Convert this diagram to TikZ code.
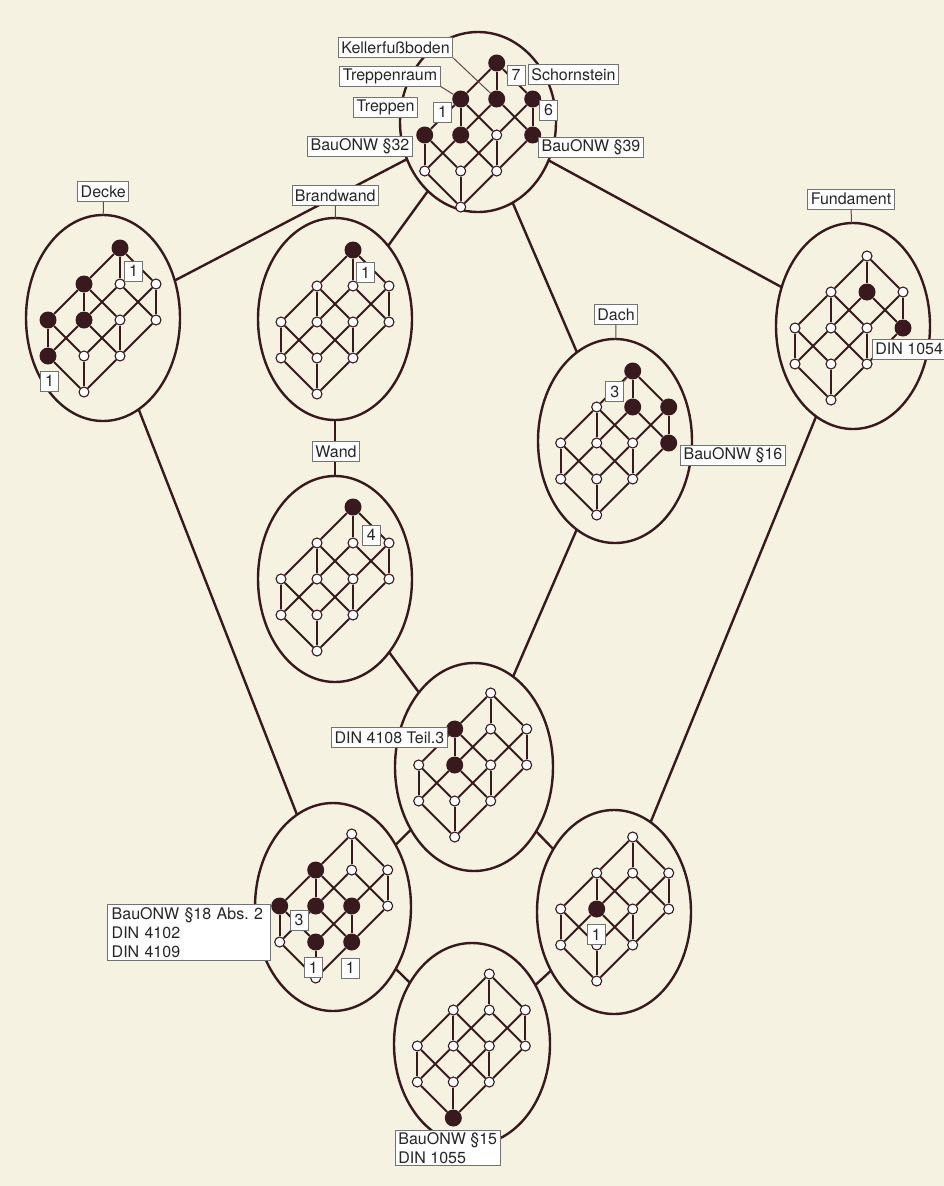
\documentclass[tikz,border=0pt]{standalone}
\usepackage{fontspec}
\newfontfamily\labelfont{TeX Gyre Heros}
\usepackage{tikz}
\usetikzlibrary{shapes.geometric}
\definecolor{paper}{RGB}{246,242,226}
\definecolor{ink}{RGB}{55,25,30}
\tikzset{
  link/.style={draw=ink, line width=2.4pt},
  blob/.style={ellipse, draw=ink, line width=2.4pt, fill=paper, inner sep=0pt, outer sep=0pt},
  latline/.style={draw=ink, line width=2pt},
  opennode/.style={circle, draw=ink, line width=1.1pt, fill=white, minimum size=10pt, inner sep=0pt},
  fullnode/.style={circle, fill=ink, minimum size=17pt, inner sep=0pt},
  lab/.style={draw=black!55, line width=0.8pt, fill=white, text=black!85,
    font={\labelfont\fontsize{16}{19}\selectfont}, inner xsep=3pt, inner ysep=1pt,
    minimum height=20pt},
  cnt/.style={lab, minimum width=18pt, inner xsep=1pt},
  lead/.style={draw=ink!80, line width=1pt},
}
\makeatletter
% inner lattice: name, x and y of its top, filled nodes
\newcommand{\lattice}[4]{%
  \foreach \i in {0,1,2}
    \foreach \j in {0,1}
      \foreach \k in {0,1}{
        \edef\@tmpa{\noexpand\in@{,\i\j\k,}{,#4,}}\@tmpa
        \ifin@
          \node[fullnode] (#1\i\j\k) at ({#2+(\k-\i)*36},{#3+(\i+\j+\k)*36}) {};
        \else
          \node[opennode] (#1\i\j\k) at ({#2+(\k-\i)*36},{#3+(\i+\j+\k)*36}) {};
        \fi
      }
  \foreach \i/\ii in {0/1,1/2}
    \foreach \j in {0,1}
      \foreach \k in {0,1}
        \draw[latline] (#1\i\j\k) -- (#1\ii\j\k);
  \foreach \i in {0,1,2}
    \foreach \k in {0,1}
      \draw[latline] (#1\i0\k) -- (#1\i1\k);
  \foreach \i in {0,1,2}
    \foreach \j in {0,1}
      \draw[latline] (#1\i\j0) -- (#1\i\j1);
}
\makeatother

\begin{document}
\begin{tikzpicture}[x=1pt, y=-1pt]
  % page
  \useasboundingbox (0,0) rectangle (944,1186);
  \fill[paper] (0,0) rectangle (944,1186);

  % ellipses
  \node[blob, minimum width=156pt, minimum height=180pt] (T) at (478,122) {};
  \node[blob, minimum width=154pt, minimum height=206pt] (D) at (103,318) {};
  \node[blob, minimum width=154pt, minimum height=202pt] (B) at (335,319) {};
  \node[blob, minimum width=154pt, minimum height=206pt] (F) at (853,326) {};
  \node[blob, minimum width=154pt, minimum height=204pt] (A) at (615,441) {};
  \node[blob, minimum width=154pt, minimum height=206pt] (W) at (335,579) {};
  \node[blob, minimum width=158pt, minimum height=208pt] (M) at (474,767) {};
  \node[blob, minimum width=156pt, minimum height=208pt] (L) at (333,907) {};
  \node[blob, minimum width=154pt, minimum height=204pt] (R) at (614,912) {};
  \node[blob, minimum width=156pt, minimum height=202pt] (U) at (472,1044) {};

  % outer lines
  \foreach \a/\b in {T/D, T/B, T/A, T/F, D/L, B/W, W/M, A/M, F/R, M/L, M/R, L/U, R/U}
    \draw[link] (\a) -- (\b);

  % inner lattices
  \lattice{T}{496.7}{63}{000,100,010,001,200,110,011}
  \lattice{D}{120}{248}{000,100,200,110,210}
  \lattice{B}{353}{250}{000}
  \lattice{A}{632.7}{371}{000,010,001,011}
  \lattice{F}{867}{256}{010,011}
  \lattice{W}{353}{507}{000}
  \lattice{M}{490.7}{693}{100,110}
  \lattice{L}{351.7}{834}{100,200,110,101,201,111}
  \lattice{R}{632.7}{837}{110}
  \lattice{U}{489.3}{974}{211}

  % labels top
  \node[lab] (kf) at (395.5,47.5) {Kellerfußboden};
  \node[lab] (tr) at (390,76) {Treppenraum};
  \node[lab] (sc) at (573.5,74.5) {Schornstein};
  \node[cnt] (n7) at (516,75) {7};
  \node[lab] (tp) at (385.5,107.5) {Treppen};
  \node[cnt] (n1t) at (442.5,112) {1};
  \node[lab] (b32) at (360,146) {BauONW §32};
  \node[cnt] (n6) at (548.5,110) {6};
  \node[lab] (b39) at (591,147) {BauONW §39};
  \draw[lead] (kf.south east) -- (T010);
  \draw[lead] (tr.south east) -- (T100);

  % Decke
  \node[lab] (ld) at (103.3,191.7) {Decke};
  \draw[lead] (ld) -- (D);
  \node[cnt] (n1d) at (133.5,271) {1};
  \node[cnt] (n1e) at (49.5,381) {1};

  % Brandwand
  \node[lab] (lb) at (335.3,195.5) {Brandwand};
  \draw[lead] (lb) -- (B);
  \node[cnt] (n1b) at (365.5,272.5) {1};

  % Dach
  \node[lab] (la) at (616,314.5) {Dach};
  \draw[lead] (la) -- (A);
  \node[cnt] (n3a) at (614.7,391.7) {3};
  \draw[lead] (n3a.north east) -- (A000);
  \node[lab] (b16) at (733,455) {BauONW §16};

  % Fundament
  \node[lab] (lf) at (851,199) {Fundament};
  \draw[lead] (lf) -- (F);
  \node[lab, anchor=west] (d1054) at (872,349) {DIN 1054};

  % Wand
  \node[lab] (lw) at (336,451.7) {Wand};
  \node[cnt] (n4w) at (371.3,535) {4};

  % middle
  \node[lab] (d4108) at (389.5,737.5) {DIN 4108 Teil.3};

  % lower left
  \node[lab, anchor=north west, align=left, text width=155pt, inner xsep=4pt, inner ysep=3pt]
    (b18) at (107.3,904) {BauONW §18 Abs.\ 2\\DIN 4102\\DIN 4109};
  \node[cnt] (n3l) at (299,920) {3};
  \node[cnt] (n1l) at (313.3,967.5) {1};
  \node[cnt] (n1m) at (350.3,968) {1};

  % lower right
  \node[cnt] (n1r) at (596.3,934.7) {1};

  % bottom
  \node[lab, anchor=north west, align=left, inner ysep=2pt] (b15) at (395,1130)
    {BauONW §15\\DIN 1055};
\end{tikzpicture}
\end{document}
